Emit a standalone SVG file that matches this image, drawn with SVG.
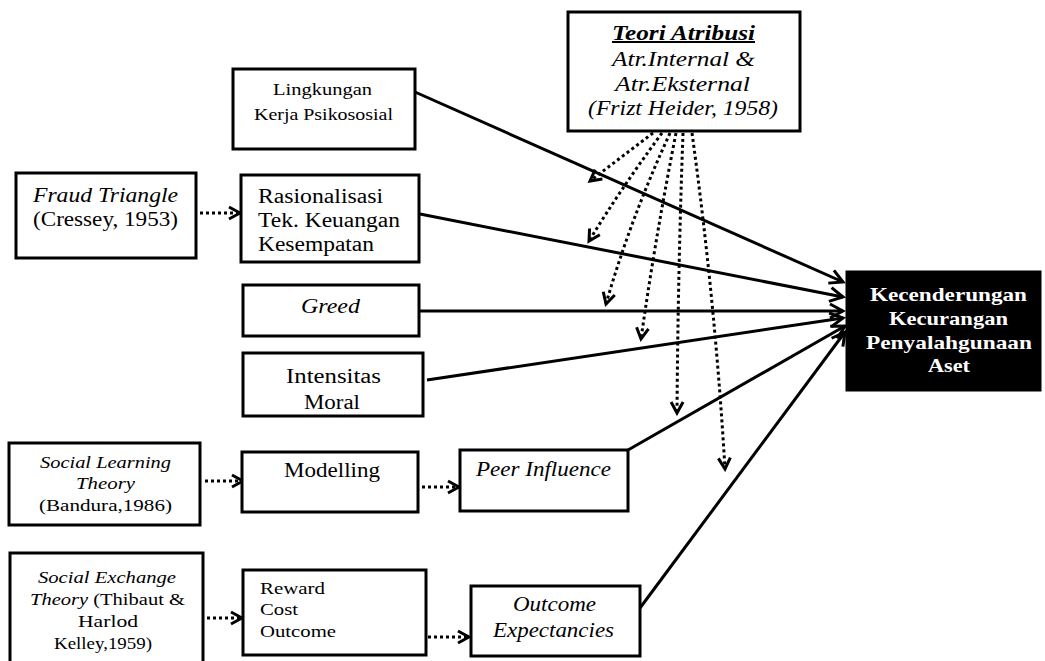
<svg xmlns="http://www.w3.org/2000/svg" width="1045" height="661" viewBox="0 0 1045 661" font-family="'Liberation Serif', Tinos, 'Times New Roman', Times, serif">
<defs>
<style>
.box{fill:#fff;stroke:#000;stroke-width:3}
.dark{fill:#000;stroke:#000;stroke-width:3}
text{fill:#000}
.t19{font-size:20px}
.t17{font-size:17px}
.it{font-style:italic}
.tgt{font-size:19px;font-weight:bold;fill:#fff}
.solid{stroke:#000;stroke-width:3;fill:none;marker-end:url(#ah)}
.dot{stroke:#000;stroke-width:3;fill:none;stroke-dasharray:3 3;marker-end:url(#dh)}
</style>
<marker id="ah" viewBox="0 0 18 18" refX="15" refY="9" markerWidth="18" markerHeight="18" markerUnits="userSpaceOnUse" orient="auto">
<path d="M2,2 L15,9 L2,16" fill="none" stroke="#000" stroke-width="3"/>
</marker>
<marker id="dh" viewBox="0 0 16 16" refX="13" refY="8" markerWidth="16" markerHeight="16" markerUnits="userSpaceOnUse" orient="auto">
<path d="M2,2 L13,8 L2,14" fill="none" stroke="#000" stroke-width="3" stroke-dasharray="none"/>
</marker>
</defs>
<rect width="1045" height="661" fill="#fff"/>

<g id="connectors">
<line class="solid" x1="415" y1="92" x2="843" y2="282"/>
<line class="solid" x1="420" y1="214" x2="843" y2="297"/>
<line class="solid" x1="419" y1="311" x2="843" y2="311"/>
<line class="solid" x1="427" y1="380" x2="843" y2="318"/>
<line class="solid" x1="628" y1="450" x2="845" y2="326"/>
<line class="solid" x1="640" y1="608" x2="845" y2="332"/>
<line class="dot" x1="200" y1="213" x2="240" y2="213"/>
<line class="dot" x1="205" y1="481" x2="243" y2="481"/>
<line class="dot" x1="422" y1="487" x2="459" y2="487"/>
<line class="dot" x1="207" y1="618" x2="242" y2="618"/>
<line class="dot" x1="428" y1="637" x2="469" y2="637"/>
<path class="dot" d="M653,133 L590,181"/>
<path class="dot" d="M662,133 Q620,190 589,241"/>
<path class="dot" d="M670,133 Q630,220 606,304"/>
<path class="dot" d="M676,133 Q655,240 641,339"/>
<path class="dot" d="M683,133 Q678,270 677,413"/>
<path class="dot" d="M692,133 Q715,300 725,469"/>
</g>

<g id="teori">
<rect class="box" x="568" y="12" width="232" height="119"/>
<text class="t19 it" x="612" y="40" textLength="143" lengthAdjust="spacingAndGlyphs" font-weight="bold" text-decoration="underline">Teori Atribusi</text>
<text class="t19 it" x="612" y="66" textLength="143" lengthAdjust="spacingAndGlyphs">Atr.Internal &amp;</text>
<text class="t19 it" x="615" y="91" textLength="135" lengthAdjust="spacingAndGlyphs">Atr.Eksternal</text>
<text class="t19 it" x="588" y="115" textLength="190" lengthAdjust="spacingAndGlyphs">(Frizt Heider, 1958)</text>
</g>

<g id="lingkungan">
<rect class="box" x="233" y="69" width="182" height="80"/>
<text class="t17" x="273" y="95" textLength="99" lengthAdjust="spacingAndGlyphs">Lingkungan</text>
<text class="t17" x="254" y="120" textLength="139" lengthAdjust="spacingAndGlyphs">Kerja Psikososial</text>
</g>

<g id="fraud">
<rect class="box" x="16" y="173" width="180" height="85"/>
<text class="t19 it" x="33" y="202" textLength="145" lengthAdjust="spacingAndGlyphs">Fraud Triangle</text>
<text class="t19" x="33" y="226" textLength="145" lengthAdjust="spacingAndGlyphs">(Cressey, 1953)</text>
</g>

<g id="rasionalisasi">
<rect class="box" x="241" y="175" width="178" height="87"/>
<text class="t19" x="258" y="203" textLength="125" lengthAdjust="spacingAndGlyphs">Rasionalisasi</text>
<text class="t19" x="258" y="227" textLength="142" lengthAdjust="spacingAndGlyphs">Tek. Keuangan</text>
<text class="t19" x="258" y="251" textLength="116" lengthAdjust="spacingAndGlyphs">Kesempatan</text>
</g>

<g id="greed">
<rect class="box" x="243" y="285" width="176" height="51"/>
<text class="t19 it" x="301" y="313" textLength="59" lengthAdjust="spacingAndGlyphs">Greed</text>
</g>

<g id="intensitas">
<rect class="box" x="243" y="353" width="180" height="63"/>
<text class="t19" x="286" y="383" textLength="95" lengthAdjust="spacingAndGlyphs">Intensitas</text>
<text class="t19" x="304" y="409" textLength="56" lengthAdjust="spacingAndGlyphs">Moral</text>
</g>

<g id="target">
<rect class="dark" x="847" y="272" width="193" height="118"/>
<text class="tgt" x="870" y="301" textLength="157" lengthAdjust="spacingAndGlyphs">Kecenderungan</text>
<text class="tgt" x="889" y="325" textLength="119" lengthAdjust="spacingAndGlyphs">Kecurangan</text>
<text class="tgt" x="866" y="349" textLength="166" lengthAdjust="spacingAndGlyphs">Penyalahgunaan</text>
<text class="tgt" x="928" y="372" textLength="42" lengthAdjust="spacingAndGlyphs">Aset</text>
</g>

<g id="social-learning">
<rect class="box" x="9" y="443" width="191" height="82"/>
<text class="t17 it" x="40" y="468" textLength="131" lengthAdjust="spacingAndGlyphs">Social Learning</text>
<text class="t17 it" x="76" y="489" textLength="59" lengthAdjust="spacingAndGlyphs">Theory</text>
<text class="t17" x="39" y="511" textLength="133" lengthAdjust="spacingAndGlyphs">(Bandura,1986)</text>
</g>

<g id="modelling">
<rect class="box" x="242" y="452" width="176" height="60"/>
<text class="t19" x="284" y="477" textLength="96" lengthAdjust="spacingAndGlyphs">Modelling</text>
</g>

<g id="peer">
<rect class="box" x="460" y="450" width="168" height="61"/>
<text class="t19 it" x="476" y="476" textLength="135" lengthAdjust="spacingAndGlyphs">Peer Influence</text>
</g>

<g id="social-exchange">
<rect class="box" x="10" y="553" width="193" height="112"/>
<text class="t17 it" x="38" y="583" textLength="138" lengthAdjust="spacingAndGlyphs">Social Exchange</text>
<text class="t17" x="30" y="605" textLength="155" lengthAdjust="spacingAndGlyphs"><tspan font-style="italic">Theory</tspan> (Thibaut &amp;</text>
<text class="t17" x="78" y="627" textLength="60" lengthAdjust="spacingAndGlyphs">Harlod</text>
<text class="t17" x="54" y="649" textLength="98" lengthAdjust="spacingAndGlyphs">Kelley,1959)</text>
</g>

<g id="reward">
<rect class="box" x="243" y="570" width="183" height="85"/>
<text class="t17" x="260" y="594" textLength="65" lengthAdjust="spacingAndGlyphs">Reward</text>
<text class="t17" x="260" y="615" textLength="38" lengthAdjust="spacingAndGlyphs">Cost</text>
<text class="t17" x="260" y="637" textLength="76" lengthAdjust="spacingAndGlyphs">Outcome</text>
</g>

<g id="outcome">
<rect class="box" x="471" y="586" width="169" height="70"/>
<text class="t19 it" x="513" y="611" textLength="83" lengthAdjust="spacingAndGlyphs">Outcome</text>
<text class="t19 it" x="493" y="637" textLength="121" lengthAdjust="spacingAndGlyphs">Expectancies</text>
</g>
</svg>
